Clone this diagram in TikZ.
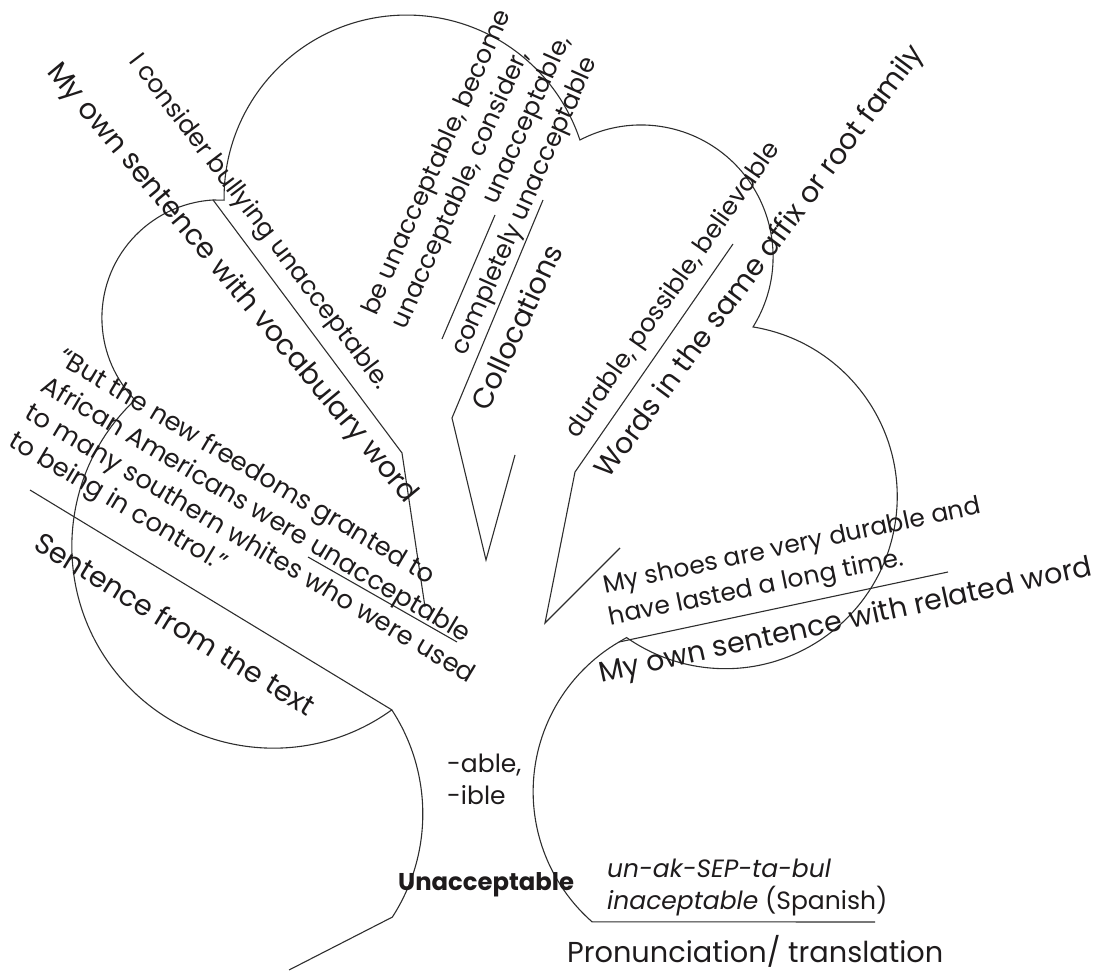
\documentclass[tikz,border=0pt]{standalone}
\usepackage{fontspec}
\setmainfont{Poppins}
\usetikzlibrary{calc}
\definecolor{ink}{HTML}{1E1B1C}
\definecolor{edge}{HTML}{2E2E2E}
\begin{document}
\begin{tikzpicture}[x=1pt,y=1pt,
  outline/.style={draw=edge, line width=1.1pt, line join=miter},
  smalltxt/.style={inner sep=0pt, text height=13.7pt, text depth=0pt, text=ink, font=\fontsize{25}{32}\selectfont},
  quotetxt/.style={inner sep=0pt, text height=14pt, text depth=0pt, text=ink, font=\fontsize{25.7}{32}\selectfont},
  bigtxt/.style={inner sep=0pt, text height=15.7pt, text depth=0pt, text=ink, font=\fontsize{28.5}{34}\selectfont},
  flat/.style={inner sep=0pt, anchor=base west, text=ink, font=\fontsize{25}{32}\selectfont},
]
\useasboundingbox (0,0) rectangle (1101,-973);

% ---------- key points ----------
\coordinate (N1) at (224.1,-200.2);
\coordinate (N1b) at (213.1,-200.0);
\coordinate (J2) at (391.9,-709.9);
\coordinate (B0) at (289,-970);
\coordinate (SL) at (30,-490);
\coordinate (J) at (619,-642);
\coordinate (RL) at (948,-572);
\coordinate (P2) at (875,-922);
\coordinate (V1) at (402,-453);
\coordinate (V1e) at (425,-607);
\coordinate (M0) at (543,-200);
\coordinate (M1) at (452,-418);
\coordinate (M2) at (486,-560);
\coordinate (M3) at (515,-455);
\coordinate (S1) at (495,-215);
\coordinate (S2) at (442,-339);
\coordinate (R0) at (733,-244);
\coordinate (R1) at (575,-472);
\coordinate (R2) at (545,-623);
\coordinate (R3) at (620,-548);
\coordinate (U1) at (308,-557);
\coordinate (U2) at (457,-642);

% ---------- outline of the tree ----------
\draw[outline] (N1b) -- (N1)
  arc[start angle=180.8, end angle=18.4, radius=182.6pt] coordinate (N2)
  arc[start angle=117.6, end angle=-32.0, radius=132pt] coordinate (N3)
  arc[start angle=80.7, end angle=-125, radius=172pt] -- (J);
\draw[outline] (J) arc[start angle=120.3, end angle=228.7, radius=173.3pt] coordinate (P1) -- (P2);
\draw[outline] (J) -- (RL);
\draw[outline] (N1b)
  arc[start angle=93.4, end angle=223.9, radius=118.2pt] coordinate (C4)
  arc[start angle=133.4, end angle=305.9, radius=201.7pt]
  arc[start angle=33.2, end angle=-32.9, radius=190pt] coordinate (B1) -- (B0);
\draw[outline] (J2) -- (SL);
\draw[outline] (N1b) -- (V1) -- (V1e);
\draw[outline] (M0) -- (M1) -- (M2) -- (M3);
\draw[outline] (S1) -- (S2);
\draw[outline] (R0) -- (R1) -- (R2) -- (R3);
\draw[outline] (U1) -- (U2);

% ---------- texts ----------
\node[smalltxt, rotate=-52.8] (t1) at (259,-222) {I consider bullying unacceptable.};
\node[bigtxt, rotate=-50.2] (t2) at (232,-283) {My own sentence with vocabulary word};

\node[smalltxt, rotate=66, anchor=west] (c1) at (369.7,-314.3) {be unacceptable, become};
\node[smalltxt, rotate=66, anchor=west] (c2) at (399.4,-327.5) {unacceptable, consider,};
\node[smalltxt, rotate=66, anchor=east] (c3) at ($(c1.east)!65pt!90:(c1.west)$) {unacceptable,};
\node[smalltxt, rotate=66, anchor=west] (c4) at (458.8,-354.0) {completely unacceptable};
\node[bigtxt, rotate=65, anchor=west] (c5) at (481,-409) {Collocations};

\node[smalltxt, rotate=55] (w1) at (673,-290) {durable, possible, believable};
\node[bigtxt, rotate=53.5] (w2) at (760,-262) {Words in the same affix or root family};

\node[quotetxt, rotate=-30.8, anchor=west] (q1) at (59.7,-356.5) {“But the new freedoms granted to};
\node[quotetxt, rotate=-30.8, anchor=west] (q2) at (43.4,-384.1) {African Americans were unacceptable};
\node[quotetxt, rotate=-30.8, anchor=west] (q3) at (27.1,-411.7) {to many southern whites who were used};
\node[quotetxt, rotate=-30.8, anchor=west] (q4) at (10.9,-439.3) {to being in control.”};
\node[bigtxt, rotate=-31.5] (st) at (174,-626) {Sentence from the text};

\node[smalltxt, rotate=12, anchor=west] (s1) at (604,-586.7) {My shoes are very durable and};
\node[smalltxt, rotate=11.5, anchor=west] (s2) at (609,-618.5) {have lasted a long time.};
\node[bigtxt, rotate=12.3, anchor=west] (s3) at (600,-675) {My own sentence with related word};

\node[flat] (ab) at (447,-772) {-able,};
\node[flat] (ib) at (447,-804) {-ible};
\node[flat, font=\fontsize{24.3}{32}\selectfont\bfseries] (un) at (398,-890) {Unacceptable};
\node[flat] (p1) at (607,-877) {\itshape un-ak-SEP-ta-bul};
\node[flat] (p2) at (607,-909) {\itshape inaceptable\/\upshape{} (Spanish)};
\node[flat, font=\fontsize{28.8}{34}\selectfont] (pt) at (567,-962) {Pronunciation/ translation};
\end{tikzpicture}
\end{document}
